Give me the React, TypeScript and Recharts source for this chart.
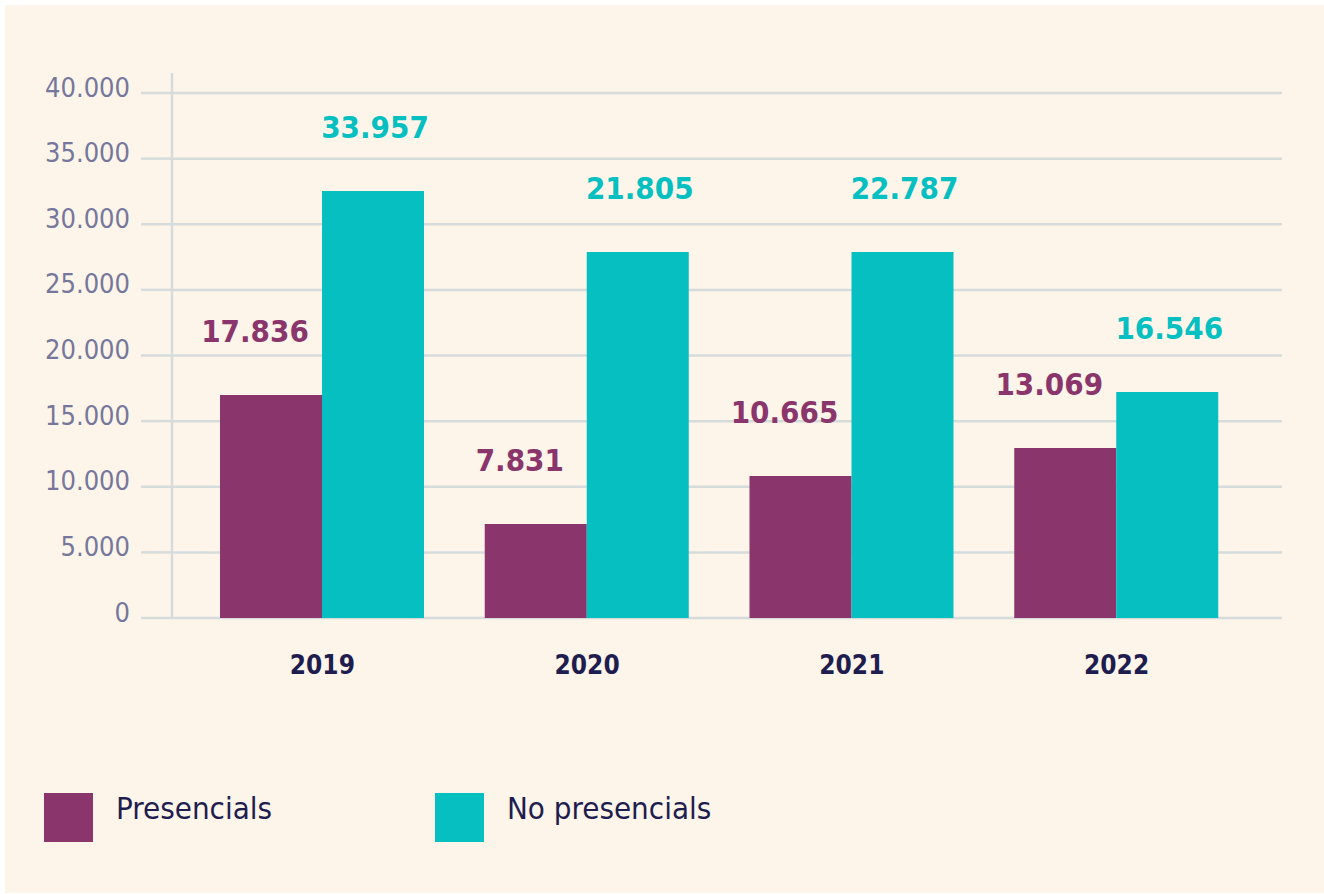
// Presencials vs no presencials per year, grouped bars on a cream panel.

import { Bar, BarChart, CartesianGrid, LabelList, XAxis, YAxis } from "recharts";

const years = ["2019", "2020", "2021", "2022"];
// bar heights as drawn in the source picture
const presencials = [16990, 7160, 10820, 12950];
const noPresencials = [32530, 27890, 27890, 17220];
// the printed figures above each bar
const presencialsLabels = ["17.836", "7.831", "10.665", "13.069"];
const noPresencialsLabels = ["33.957", "21.805", "22.787", "16.546"];
const yTicks = [0, 5000, 10000, 15000, 20000, 25000, 30000, 35000, 40000];

const PURPLE = "#8a356b";
const TEAL = "#05bfc1";
const GRID = "#d5dcdb";
const NAVY = "#1e1d4f";
const MUTED = "#76779c";
const CREAM = "#fdf5e9";
const FONT = "'DejaVu Sans Condensed', 'DejaVu Sans', sans-serif";

const data = years.map((y, i) => ({ year: y, pres: presencials[i], nopres: noPresencials[i] }));

const fmt = (v: number) => (v === 0 ? "0" : v.toLocaleString("de-DE"));

function YTick({ x, y, payload }: any) {
  return (
    <text x={x} y={y - 6} textAnchor="end" dominantBaseline="central" fill={MUTED} fontSize={27} fontFamily={FONT}>
      {fmt(payload.value)}
    </text>
  );
}

function XTick({ x, y, payload }: any) {
  return (
    <text x={x} y={y} textAnchor="middle" dominantBaseline="central" fill={NAVY} fontSize={26} fontWeight="bold" fontFamily={FONT}>
      {payload.value}
    </text>
  );
}

const makeLabel = (texts: string[], color: string, dx: number) => (p: any) => (
  <text x={p.x + p.width / 2 + dx} y={p.y - 64} textAnchor="middle" dominantBaseline="central"
        fill={color} fontSize={31} fontWeight="bold" fontFamily={FONT}>
    {texts[p.index]}
  </text>
);

const legendItems = [
  { name: "Presencials", color: PURPLE, left: 44 },
  { name: "No presencials", color: TEAL, left: 435 },
];

export default function App() {
  return (
    <div style={{ position: "absolute", left: 0, top: 0, width: 1324, height: 894, background: "#fff", overflow: "hidden" }}>
      <div style={{ position: "absolute", left: 5, top: 5, width: 1319, height: 888, background: CREAM }} />
      <div style={{ position: "absolute", left: 0, top: 0 }}>
        <BarChart width={1324} height={894} data={data} barGap={0}
                  margin={{ top: 73, right: 42, bottom: 216, left: 0 }}>
          <CartesianGrid horizontal vertical={false} horizontalValues={yTicks} stroke={GRID} strokeWidth={2.5} />
          <XAxis dataKey="year" axisLine={false} tickLine={false} tickSize={0} tickMargin={47} height={60}
                 padding={{ left: 18, right: 33 }} tick={<XTick />} interval={0} />
          <YAxis width={172} domain={[0, 41524]} ticks={yTicks} interval={0}
                 axisLine={{ stroke: GRID, strokeWidth: 2.5 }} tickLine={{ stroke: GRID, strokeWidth: 2.5 }}
                 tickSize={31} tickMargin={11} tick={<YTick />} />
          <Bar dataKey="pres" name="Presencials" fill={PURPLE} barSize={102} isAnimationActive={false}>
            <LabelList dataKey="pres" content={makeLabel(presencialsLabels, PURPLE, -16)} />
          </Bar>
          <Bar dataKey="nopres" name="No presencials" fill={TEAL} barSize={102} isAnimationActive={false}>
            <LabelList dataKey="nopres" content={makeLabel(noPresencialsLabels, TEAL, 2)} />
          </Bar>
        </BarChart>
      </div>
      {legendItems.map((l) => (
        <div key={l.name} style={{ position: "absolute", left: l.left, top: 793, display: "flex", alignItems: "flex-start" }}>
          <div style={{ width: 49, height: 49, background: l.color }} />
          <span style={{ marginLeft: 23, marginTop: -3, fontFamily: FONT, fontSize: 31, color: NAVY, lineHeight: "36px" }}>
            {l.name}
          </span>
        </div>
      ))}
    </div>
  );
}
